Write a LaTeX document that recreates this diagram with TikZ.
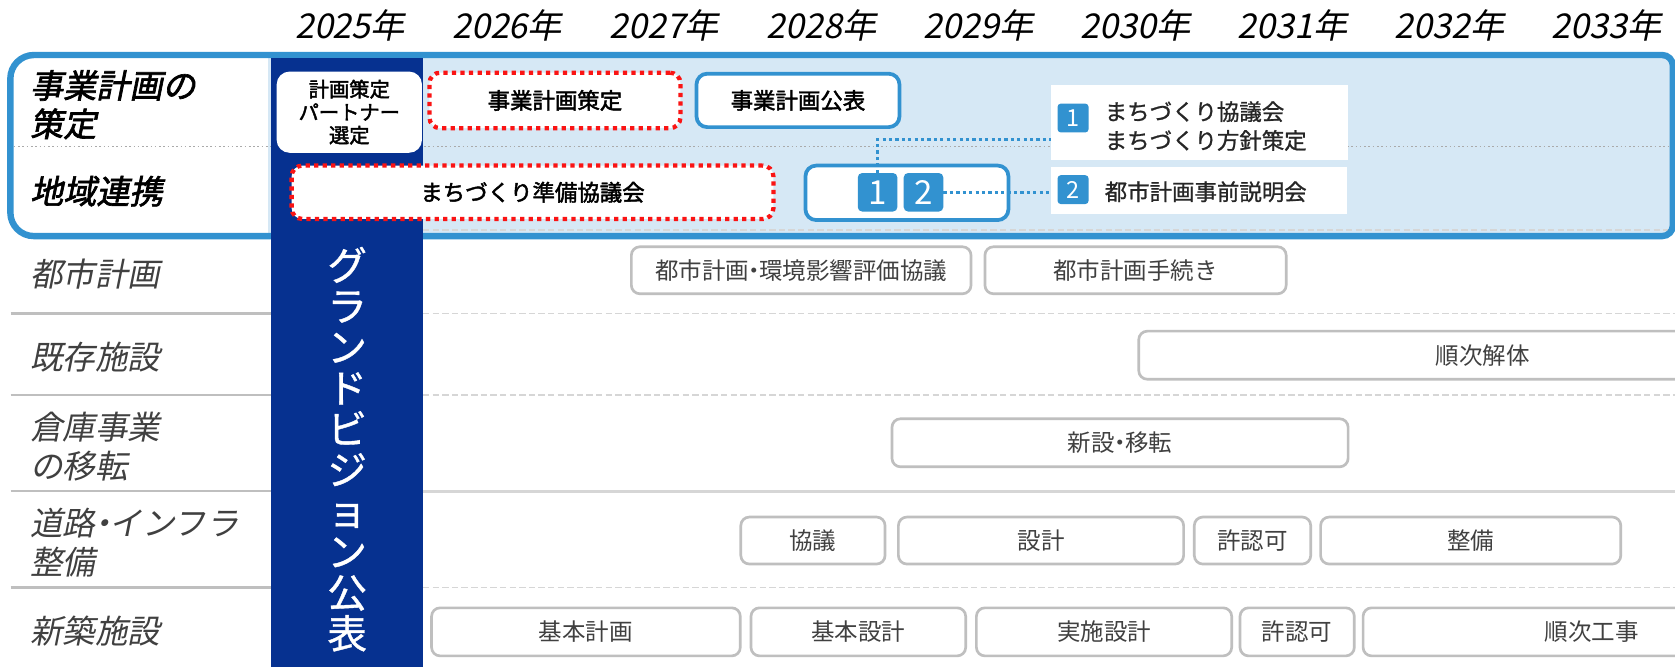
\documentclass[tikz,border=0pt]{standalone}
\usepackage{fontspec}
\newfontfamily\jp{Noto Sans CJK JP}
\newfontfamily\jpb[FakeBold=2]{Noto Sans CJK JP}
\newfontfamily\jpm[FakeBold=1]{Noto Sans CJK JP}
\newfontfamily\jpi[FakeSlant=0.2]{Noto Sans CJK JP}
\newfontfamily\jpbi[FakeSlant=0.2,FakeBold=2]{Noto Sans CJK JP}
\newcommand{\jpdot}{\kern-0.28em・\kern-0.28em}
\definecolor{frameblue}{RGB}{50,146,208}
\definecolor{lightfill}{RGB}{214,232,245}
\definecolor{navy}{RGB}{6,49,144}
\definecolor{dotred}{RGB}{250,20,20}
\definecolor{boxgray}{RGB}{191,191,191}
\definecolor{txtgray}{RGB}{64,64,64}
\definecolor{sepgray}{RGB}{191,191,191}
\definecolor{dashgray}{RGB}{214,214,214}
\definecolor{dotgray}{RGB}{170,170,170}
\begin{document}
\begin{tikzpicture}[x=1pt,y=-1pt,
  graybox/.style={draw=boxgray, line width=2.5pt, rounded corners=8pt, fill=white, text=txtgray, font=\jp\fontsize{22}{24}\selectfont, inner sep=0pt, minimum height=44pt},
  redbox/.style={draw=dotred, line width=4pt, dash pattern=on 4pt off 4pt, rounded corners=10pt, fill=white, font=\jpb\fontsize{21}{24}\selectfont, inner sep=0pt},
  bluebox/.style={draw=frameblue, line width=3.5pt, rounded corners=10pt, fill=white, font=\jpb\fontsize{21}{24}\selectfont, inner sep=0pt},
  numsq/.style={fill=frameblue, rounded corners=4pt, text=white, inner sep=0pt, minimum width=37pt, minimum height=36pt, font=\jp\fontsize{31}{31}\selectfont},
  infonum/.style={fill=frameblue, rounded corners=3pt, text=white, inner sep=0pt, minimum width=29pt, minimum height=27pt, font=\jp\fontsize{22}{22}\selectfont},
  infobox/.style={fill=white, inner sep=0pt},
  infotext/.style={anchor=west, align=left, text=black!85, font=\jpm\fontsize{21}{27}\selectfont, inner sep=0pt},
  yearlbl/.style={font=\jpi\fontsize{32}{32}\selectfont, inner sep=0pt},
  framelbl/.style={anchor=west, align=left, font=\jpbi\fontsize{31}{36}\selectfont, inner sep=0pt},
  rowlbl/.style={anchor=west, align=left, text=txtgray, font=\jpi\fontsize{30.5}{36}\selectfont, inner sep=0pt},
  conn/.style={draw=frameblue, line width=3pt, dash pattern=on 3pt off 3pt},
  seps/.style={draw=sepgray, line width=2pt},
  sepd/.style={draw=dashgray, line width=1.5pt, dash pattern=on 6pt off 3pt},
]
\useasboundingbox (0,0) rectangle (1568,624);
\fill[white] (0,0) rectangle (1568,624);

% years
\foreach \yr [count=\i from 0] in {2025,2026,2027,2028,2029,2030,2031,2032,2033}
  \node[yearlbl] (y\yr) at (327.7+147*\i,23.5) {\yr 年};

% light fill inside frame
\begin{scope}
\clip (700,51.5) [rounded corners=10pt] -- (1566,51.5) -- (1566,221) [rounded corners=22pt] -- (9.7,221) -- (9.7,51.5) -- cycle;
\fill[lightfill] (251,40) rectangle (1580,230);
\end{scope}
\draw[dotgray, line width=1.5pt, dash pattern=on 1.5pt off 2.5pt] (13,137) -- (1563,137);
\draw[sepd] (396,215.5) -- (1563,215.5);

% row separators
\foreach \yy in {293.5,370,550} {
  \draw[seps] (10,\yy) -- (256,\yy);
  \draw[sepd] (396,\yy) -- (1568,\yy);
}
\draw[seps] (10,460) -- (256,460);
\draw[dashgray, line width=3pt] (396,460) -- (1568,460);

% frame
\draw[frameblue, line width=6pt] (700,51.5) [rounded corners=10pt] -- (1566,51.5) -- (1566,221) [rounded corners=22pt] -- (9.7,221) -- (9.7,51.5) -- cycle;

% grand vision bar
\fill[navy] (254,54.5) rectangle (396,624);
\node[text=white, align=center, inner sep=0pt, font=\jpm\fontsize{37}{38.3}\selectfont] (gv) at (325,420.5)
  {グ\\ラ\\ン\\ド\\ビ\\ジ\\ョ\\ン\\公\\表};

% labels
\node[framelbl] (l1) at (28,98) {事業計画の\\策定};
\node[framelbl] (l2) at (28,179) {地域連携};
\node[rowlbl] (r1) at (28,257) {都市計画};
\node[rowlbl] (r2) at (28,334) {既存施設};
\node[rowlbl] (r3) at (28,418) {倉庫事業\\の移転};
\node[rowlbl] (r4) at (28,508) {道路\jpdot インフラ\\整備};
\node[rowlbl] (r5) at (28,591) {新築施設};

% top section boxes
\node[fill=white, rounded corners=12pt, minimum width=136pt, minimum height=76pt, inner sep=0pt, align=center, font=\jpb\fontsize{19}{21.5}\selectfont] (partner) at (327,105) {計画策定\\パートナー\\選定};
\node[redbox, minimum width=235pt, minimum height=52pt] (plan) at (519.5,94) {事業計画策定};
\node[bluebox, minimum width=190pt, minimum height=50pt] (pub) at (747,94) {事業計画公表};
\node[redbox, minimum width=451pt, minimum height=50pt] (prep) at (498.5,180) {まちづくり準備協議会};
\node[bluebox, minimum width=190pt, minimum height=51pt] (b12) at (849,180.5) {};

\node[infobox, minimum width=278pt, minimum height=70pt] (info1) at (1123,115) {};
\node[infobox, minimum width=277pt, minimum height=44pt] (info2) at (1122.5,178) {};
\node[infonum] (iq1) at (1004.5,110.5) {1};
\node[infonum] (iq2) at (1004.5,177.5) {2};
\node[infotext] (it1) at (1034,118) {まちづくり協議会\\まちづくり方針策定};
\node[infotext] (it2) at (1034,179.5) {都市計画事前説明会};

\coordinate (c1) at (984,130.5);
\node[numsq] (sq1) at (821.5,180) {1};
\node[numsq] (sq2) at (864.5,180) {2};
\draw[conn] (sq1.north) |- (c1);
\draw[conn] (sq2.east) -- (sq2.east -| info2.west);

% gray task boxes
\node[graybox, minimum width=318pt] (t1) at (750,253) {都市計画\jpdot 環境影響評価協議};
\node[graybox, minimum width=282pt] (t2) at (1063,253) {都市計画手続き};
\node[graybox, minimum width=644pt, minimum height=45pt] (t3) at (1388,332.5) {順次解体};
\node[graybox, minimum width=427pt, minimum height=45pt] (t4) at (1048.5,414.5) {新設\jpdot 移転};
\node[graybox, minimum width=135pt] (t5) at (761,506) {協議};
\node[graybox, minimum width=267pt] (t6) at (974.5,506) {設計};
\node[graybox, minimum width=109pt] (t7) at (1172.5,506) {許認可};
\node[graybox, minimum width=281pt] (t8) at (1376.75,506) {整備};
\node[graybox, minimum width=289pt, minimum height=45pt] (t9) at (548.5,591.5) {基本計画};
\node[graybox, minimum width=201pt, minimum height=45pt] (t10) at (803.5,591.5) {基本設計};
\node[graybox, minimum width=239pt, minimum height=45pt] (t11) at (1033.5,591.5) {実施設計};
\node[graybox, minimum width=107pt, minimum height=45pt] (t12) at (1214.3,591.5) {許認可};
\node[graybox, minimum width=428pt, minimum height=45pt] (t13) at (1490,591.5) {順次工事};
\end{tikzpicture}
\end{document}
